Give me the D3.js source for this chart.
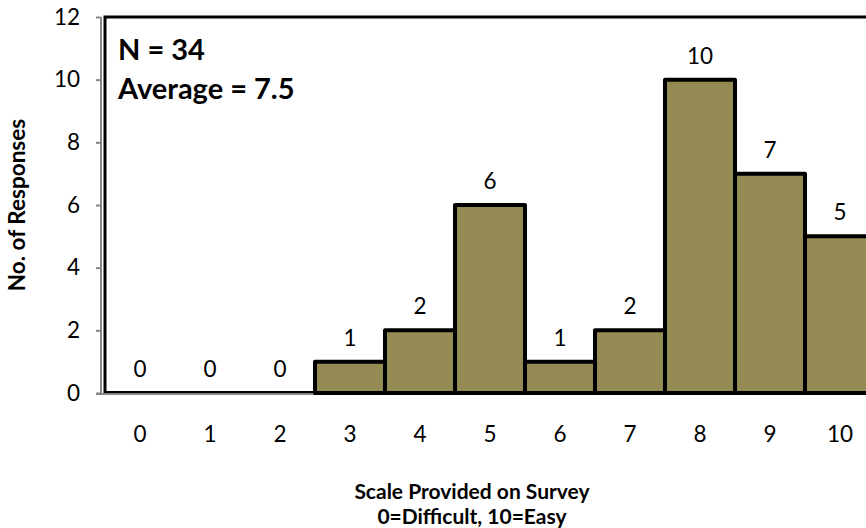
<!DOCTYPE html>
<html>
<head>
<meta charset="utf-8">
<script src="https://cdn.jsdelivr.net/npm/d3@7"></script>
<style>
  html, body { margin: 0; padding: 0; background: #fff; }
  svg { display: block; font-family: Lato, "Open Sans", sans-serif; }
</style>
</head>
<body>
<svg id="chart" width="866" height="528"></svg>
<script>
// Survey rating histogram
const categories = ["0", "1", "2", "3", "4", "5", "6", "7", "8", "9", "10"];
const responses = [0, 0, 0, 1, 2, 6, 1, 2, 10, 7, 5];
const yTicks = [0, 2, 4, 6, 8, 10, 12];
const summaryLines = ["N = 34", "Average = 7.5"];
const xTitleLines = ["Scale Provided on Survey", "0=Difficult, 10=Easy"];
const yTitle = "No. of Responses";

const svg = d3.select("#chart");
const plotLeft = 105, plotRight = 875, plotTop = 17, plotBottom = 393;
const fontFamily = "Lato, 'Open Sans', sans-serif";

const x = d3.scaleBand().domain(categories).range([plotLeft, plotRight]).padding(0);
const y = d3.scaleLinear().domain([0, 12]).range([plotBottom, plotTop]);

// gray value axis
const yAxis = svg.append("g")
  .attr("transform", `translate(101,0)`)
  .call(d3.axisLeft(y).tickValues(yTicks).tickSize(5).tickPadding(16));
yAxis.select(".domain").attr("stroke", "#868686").attr("stroke-width", 2)
  .attr("d", `M0,${plotTop}V${plotBottom + 1}`);
yAxis.selectAll(".tick line").attr("stroke", "#868686").attr("stroke-width", 2);
yAxis.selectAll(".tick text").attr("font-size", 22.5).attr("fill", "#000")
  .attr("font-family", fontFamily);

// gray category axis
const xAxis = svg.append("g")
  .attr("transform", `translate(0,${plotBottom + 1})`)
  .call(d3.axisBottom(x).tickSize(0).tickPadding(32));
xAxis.select(".domain").attr("stroke", "#868686").attr("stroke-width", 2)
  .attr("d", `M96,0H${plotRight}`);
xAxis.selectAll(".tick text").attr("font-size", 22.5).attr("fill", "#000")
  .attr("font-family", fontFamily);

// plot area frame
svg.append("path")
  .attr("d", `M${plotLeft},${plotBottom}V${plotTop}H${plotRight}`)
  .attr("fill", "none").attr("stroke", "#000").attr("stroke-width", 3);
svg.append("line")
  .attr("x1", plotLeft).attr("x2", plotRight).attr("y1", plotBottom - 1).attr("y2", plotBottom - 1)
  .attr("stroke", "#000").attr("stroke-width", 2);

// bars
const data = categories.map((c, i) => ({ c, v: responses[i] }));
svg.append("g").selectAll("rect")
  .data(data.filter(d => d.v > 0))
  .join("rect")
  .attr("x", d => x(d.c))
  .attr("y", d => y(d.v))
  .attr("width", x.bandwidth())
  .attr("height", d => y(0) - y(d.v))
  .attr("fill", "#948A54")
  .attr("stroke", "#000")
  .attr("stroke-width", 4)
  .attr("stroke-linejoin", "round");

// value labels
svg.append("g").selectAll("text")
  .data(data)
  .join("text")
  .attr("x", d => x(d.c) + x.bandwidth() / 2)
  .attr("y", d => y(d.v) - 16)
  .attr("text-anchor", "middle")
  .attr("font-size", 22.5)
  .text(d => d.v);

// summary text
svg.append("g").selectAll("text")
  .data(summaryLines)
  .join("text")
  .attr("x", 118)
  .attr("y", (d, i) => 60 + i * 39)
  .attr("font-size", 29)
  .attr("font-weight", "bold")
  .text(d => d);

// axis titles
svg.append("g").selectAll("text")
  .data(xTitleLines)
  .join("text")
  .attr("x", 472)
  .attr("y", (d, i) => 499 + i * 25)
  .attr("text-anchor", "middle")
  .attr("font-size", 21)
  .attr("font-weight", "bold")
  .text(d => d);

svg.append("text")
  .attr("transform", "translate(25,205) rotate(-90)")
  .attr("text-anchor", "middle")
  .attr("font-size", 22.5)
  .attr("font-weight", "bold")
  .text(yTitle);
</script>
</body>
</html>
